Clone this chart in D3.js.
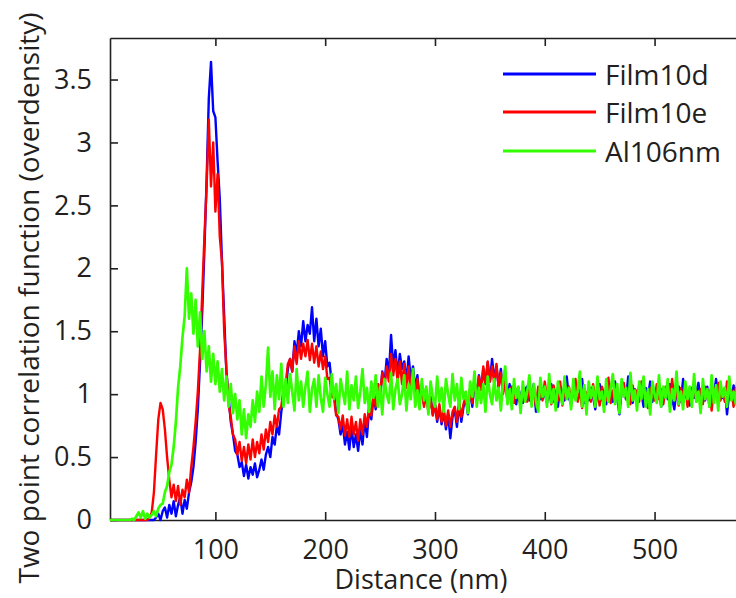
<!DOCTYPE html>
<html><head><meta charset="utf-8">
<script src="https://cdn.jsdelivr.net/npm/d3@7"></script>
<style>html,body{margin:0;padding:0;background:#fff;}svg{display:block;}</style>
</head><body>
<svg id="chart" width="736" height="598"></svg>
<script>
// ---- data (sampled every 2 nm from 4 nm to 576 nm) ----
const distStart = 4, distStep = 2;
const seriesNames = ["Film10d", "Film10e", "Al106nm"];
const seriesColors = ["#0000ff", "#ff0000", "#33ff00"];
const xTicks = [100, 200, 300, 400, 500];
const yTicks = [0, 0.5, 1, 1.5, 2, 2.5, 3, 3.5];
const yTickLabels = ["0", "0.5", "1", "1.5", "2", "2.5", "3", "3.5"];

const film10d = [
0,0,0,0,0,0,0,0,0,0,
0,0,0,0,0,0,0,0,0,0,
0,0.02,0.05,0,0.07,0.1,0.02,0.12,0.05,0.15,
0.03,0.12,0.18,0.05,0.16,0.09,0.22,0.3,0.42,0.62,
0.88,1.25,1.65,2.15,2.7,3.35,3.64,3.25,3.2,2.85,
2.55,2.05,1.62,1.18,0.98,0.78,0.68,0.55,0.52,0.42,
0.46,0.35,0.44,0.33,0.42,0.36,0.45,0.34,0.4,0.48,
0.4,0.52,0.58,0.5,0.66,0.6,0.75,0.68,0.86,0.97,
1.02,1.2,1.28,1.18,1.42,1.32,1.5,1.38,1.58,1.42,
1.55,1.48,1.69,1.42,1.6,1.38,1.52,1.3,1.42,1.22,
1.25,1.08,1.02,0.85,0.8,0.68,0.76,0.6,0.7,0.56,
0.74,0.58,0.68,0.55,0.72,0.6,0.8,0.66,0.88,0.8,
0.98,0.88,1.08,0.96,1.18,1.08,1.28,1.16,1.47,1.22,
1.35,1.15,1.32,1.2,1.26,1.1,1.3,1.12,1.22,1.04,
1.15,0.96,1.08,0.92,1.04,0.86,0.98,0.84,0.92,0.78,
0.9,0.76,0.86,0.72,0.84,0.65,0.82,0.88,0.74,0.92,
0.78,0.9,0.97,0.84,1.04,0.9,1.08,0.98,1.15,1.04,
1.2,1.08,1.25,1.1,1.28,1.12,1.22,1.06,1.2,1.02,
1.14,0.96,1.08,0.94,1.06,0.92,1.05,0.97,0.93,1.04,
1.06,0.95,0.99,1.08,0.86,1.02,0.96,1.05,1.0,0.93,
1.04,1.08,0.94,1.0,0.9,1.06,1.02,0.95,1.14,0.97,
0.92,1.03,1.07,0.96,0.99,1.12,0.93,1.01,0.95,1.05,
0.98,0.88,1.04,1.08,0.95,1.0,0.92,1.06,1.02,0.94,
1.1,0.97,0.84,1.03,1.05,0.96,1.14,0.99,0.93,1.04,
0.95,1.07,1.01,0.9,1.05,0.98,1.1,0.94,1.02,0.97,
1.06,0.9,1.0,1.04,0.96,1.08,0.97,0.88,1.03,1.06,
0.94,1.12,0.98,1.02,0.91,1.05,0.97,1.01,1.09,0.92,
1.03,0.95,1.06,0.9,1.04,0.99,1.12,0.94,1.01,0.97,
1.05,0.84,1.01,0.96,1.07,0.93,1.03
];

const film10e = [
0,0,0,0,0,0,0,0,0,0,
0,0,0,0,0,0,0,0,0.02,0.06,
0.22,0.52,0.8,0.93,0.88,0.72,0.5,0.32,0.18,0.28,
0.15,0.27,0.12,0.24,0.18,0.32,0.22,0.42,0.58,0.78,
1.02,1.35,1.8,2.25,2.65,3.18,2.65,3.0,2.45,2.75,
2.25,2.05,1.5,1.2,0.92,0.82,0.68,0.64,0.52,0.62,
0.47,0.58,0.45,0.6,0.48,0.64,0.5,0.62,0.53,0.68,
0.56,0.72,0.62,0.78,0.68,0.83,0.74,0.88,0.9,1.04,
1.08,1.24,1.28,1.18,1.38,1.24,1.42,1.28,1.4,1.3,
1.43,1.27,1.4,1.25,1.38,1.22,1.34,1.2,1.3,1.12,
1.13,0.98,0.97,0.83,0.82,0.72,0.83,0.67,0.8,0.66,
0.82,0.68,0.78,0.63,0.8,0.68,0.84,0.74,0.9,0.83,
1.0,0.9,1.08,1.0,1.17,1.05,1.22,1.1,1.32,1.15,
1.28,1.1,1.26,1.08,1.24,1.05,1.22,1.02,1.17,1.0,
1.12,0.93,1.04,0.9,1.0,0.86,0.97,0.83,0.92,0.8,
0.92,0.78,0.88,0.75,0.87,0.74,0.86,0.9,0.78,0.94,
0.82,0.92,1.0,0.86,1.04,0.93,1.1,1.0,1.14,1.03,
1.22,1.08,1.26,1.1,1.22,1.08,1.24,1.05,1.17,1.0,
1.12,0.94,1.02,1.06,0.93,1.04,0.97,0.91,1.05,1.0,
0.94,1.07,0.98,1.03,0.9,1.06,1.0,0.95,1.1,0.97,
1.02,0.92,1.07,0.98,0.95,1.1,0.91,1.03,0.99,1.06,
0.96,1.01,1.12,0.94,1.03,0.89,1.05,0.98,1.04,0.94,
1.08,0.97,1.02,0.91,1.06,1.0,0.95,1.13,0.93,1.03,
0.99,1.05,0.9,1.02,1.09,0.96,1.0,0.92,1.07,0.98,
1.03,0.94,1.1,0.97,1.01,0.89,1.05,0.99,0.95,1.08,
0.96,1.04,0.92,1.06,1.0,0.94,1.12,0.97,1.03,0.91,
1.05,0.98,1.07,0.9,1.02,0.96,1.1,0.94,1.01,1.04,
0.92,1.06,0.97,1.03,0.87,1.05,0.99,1.09,0.95,1.02,
0.94,1.1,0.98,1.03,0.9,1.05,0.98
];

const al106nm = [
0,0,0,0,0,0,0,0,0,0,
0.01,0,0.03,0.06,0.02,0.07,0.01,0.05,0.02,0.04,
0.07,0.03,0.09,0.12,0.13,0.22,0.27,0.38,0.44,0.58,
0.78,1.05,1.22,1.45,1.62,2.0,1.6,1.8,1.48,1.75,
1.38,1.65,1.28,1.5,1.18,1.38,1.1,1.32,1.08,1.26,
1.02,1.2,0.95,1.14,0.9,1.08,0.85,1.0,0.8,0.95,
0.68,0.88,0.65,0.84,0.74,0.95,0.78,1.02,0.86,1.14,
0.9,1.08,1.37,0.98,1.18,0.88,1.15,0.96,1.24,0.9,
1.12,0.93,1.16,1.02,0.87,1.2,0.95,1.1,0.9,1.06,
1.18,0.86,1.04,1.12,0.9,1.15,0.97,0.86,1.13,1.0,
0.9,1.16,0.96,1.08,0.85,1.12,1.02,0.92,1.18,0.88,
1.07,0.95,1.14,0.89,1.02,1.2,0.93,1.05,0.86,1.1,
0.97,1.15,0.9,1.06,0.84,1.12,1.0,0.93,1.17,0.88,
1.04,1.12,0.92,1.0,1.15,0.87,1.08,0.96,1.2,0.9,
1.03,0.88,1.12,0.95,1.06,0.84,1.1,0.98,0.9,1.14,
0.94,1.05,0.86,1.12,1.0,0.9,1.16,0.95,1.08,0.88,
1.13,0.96,1.02,0.85,1.1,0.98,1.18,0.9,1.05,0.93,
1.08,0.86,1.14,1.0,0.92,1.12,0.95,1.05,0.87,1.1,
1.22,0.92,1.04,0.88,1.12,0.97,1.06,0.85,1.1,0.94,
1.02,1.15,0.9,1.08,0.95,0.86,1.13,0.98,1.06,0.9,
1.16,0.93,1.04,0.87,1.1,1.0,0.92,1.14,0.96,1.05,
0.88,1.12,0.95,1.03,1.18,0.9,1.07,0.84,1.1,0.97,
1.06,0.9,1.14,0.96,1.02,0.86,1.12,0.94,1.04,1.16,
0.92,1.08,0.85,1.12,0.98,1.05,0.9,1.17,0.95,1.03,
0.87,1.1,0.96,1.14,0.9,1.04,0.84,1.1,1.0,0.93,
1.15,0.9,1.06,0.97,1.12,0.86,1.04,0.95,1.18,0.92,
1.02,0.88,1.1,0.96,1.06,0.9,1.16,0.94,1.02,0.85,
1.12,0.96,1.04,0.9,1.15,0.93,1.07,0.87,1.1,0.98,
1.05,0.9,1.14,0.95,1.02,0.92,1.22
];

const seriesValues = [film10d, film10e, al106nm];
const seriesWidths = [2.4, 2.4, 2.7];

// ---- layout ----
const plot = {left: 110, top: 38, right: 738, bottom: 520};
const svg = d3.select("#chart");
const font = "'Open Sans', 'Noto Sans', sans-serif";
const ink = "#231f20";

const x = d3.scaleLinear().domain([4, 576]).range([plot.left, plot.right]);
const y = d3.scaleLinear().domain([0, 3.83]).range([plot.bottom, plot.top]);

// ---- axes ----
const axisStyle = g => {
  g.select(".domain").attr("stroke", ink).attr("stroke-width", 1.6);
  g.selectAll(".tick line").attr("stroke", ink).attr("stroke-width", 1.6);
  g.selectAll(".tick text").attr("fill", ink).style("font-family", font).style("font-size", "27px");
};

svg.append("g").attr("transform", `translate(0,${plot.bottom})`)
  .call(d3.axisBottom(x).tickValues(xTicks).tickSize(-8).tickPadding(20).tickSizeOuter(0))
  .call(axisStyle);

svg.append("g").attr("transform", `translate(0,${plot.top})`)
  .call(d3.axisTop(x).tickValues(xTicks).tickSize(-8).tickFormat(() => "").tickSizeOuter(0))
  .call(axisStyle);

svg.append("g").attr("transform", `translate(${plot.left},0)`)
  .call(d3.axisLeft(y).tickValues(yTicks).tickFormat((d, i) => yTickLabels[i]).tickSize(-8).tickPadding(18).tickSizeOuter(0))
  .call(axisStyle);

// ---- series: green drawn last (on top) ----
const line = d3.line().x(d => x(d[0])).y(d => y(d[1]));
seriesValues.forEach((vals, k) => {
  const pts = vals.map((v, i) => [distStart + i * distStep, v]);
  svg.append("path").datum(pts)
    .attr("d", line).attr("fill", "none")
    .attr("stroke", seriesColors[k]).attr("stroke-width", seriesWidths[k])
    .attr("stroke-linejoin", "round");
});

// ---- titles ----
svg.append("text").attr("x", 421).attr("y", 589).attr("text-anchor", "middle")
  .attr("fill", ink).style("font-family", font).style("font-size", "27px")
  .text("Distance (nm)");

svg.append("text").attr("transform", "translate(39,298) rotate(-90)").attr("text-anchor", "middle")
  .attr("fill", ink).style("font-family", font).style("font-size", "28px")
  .text("Two point correlation function (overdensity)");

// ---- legend ----
const legY = [74, 112, 151];
seriesNames.forEach((name, k) => {
  svg.append("line").attr("x1", 503).attr("x2", 596).attr("y1", legY[k]).attr("y2", legY[k])
    .attr("stroke", seriesColors[k]).attr("stroke-width", 3);
  svg.append("text").attr("x", 605).attr("y", legY[k] + 11)
    .attr("fill", ink).style("font-family", font).style("font-size", "28px").text(name);
});
</script>
</body></html>
